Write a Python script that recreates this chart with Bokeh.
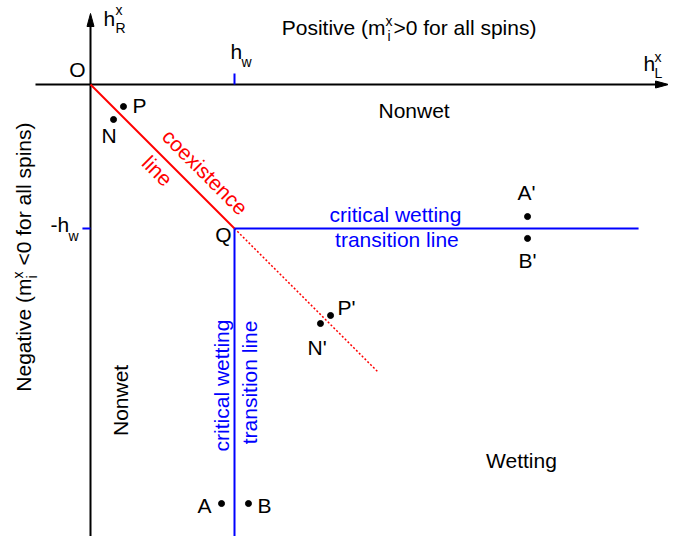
from bokeh.plotting import figure
from bokeh.models import Range1d
from bokeh.core.properties import value
from bokeh.embed import file_html
from bokeh.resources import INLINE
import math

# ---- schematic data (units of h_w) ----
HW = 1.0
axis_x_extent = [-0.382, 4.014]      # h_L^x axis (y = 0)
axis_y_extent = [-3.40, 0.493]       # h_R^x axis (x = 0)
coex_solid_x = [0.0, HW]
coex_solid_y = [0.0, -HW]
coex_dot_x = [HW, 2.0]
coex_dot_y = [-HW, -2.0]
cwt_h_x = [HW, 3.806]
cwt_h_y = [-HW, -HW]
cwt_v_x = [HW, HW]
cwt_v_y = [-HW, -3.40]

point_names = ["P", "N", "P'", "N'", "A", "B", "A'", "B'"]
point_x = [0.229, 0.160, 1.667, 1.597, 0.910, 1.097, 3.035, 3.035]
point_y = [-0.153, -0.243, -1.604, -1.660, -2.910, -2.910, -0.917, -1.069]

label_x = [0.292, 0.076, 1.715, 1.507, 0.743, 1.160, 3.028, 3.035]
label_y = [-0.201, -0.410, -1.604, -1.882, -2.979, -2.979, -0.805, -1.278]
label_align = ["left", "left", "left", "left", "left", "left", "center", "center"]

PX = 144.0  # screen pixels per unit
FONT = value("Liberation Sans")
BIG = 21
SMALL = 14
RED = "#ff0000"
BLUE = "#0000ff"

p = figure(width=668, height=536, output_backend="svg", toolbar_location=None,
           x_range=Range1d(-90 / PX, 578 / PX), y_range=Range1d(-452 / PX, 84 / PX),
           min_border=0)
p.axis.visible = False
p.grid.visible = False
p.outline_line_color = None
p.background_fill_color = "white"


def txt(x, y, s, size=BIG, color="black", align="left", angle=0.0):
    # shift the anchor "up" in the text's own frame to land the alphabetic baseline
    d = 0.37 * size / PX
    x2 = x - math.sin(angle) * d
    y2 = y + math.cos(angle) * d
    p.text(x=[x2], y=[y2], text=[s], text_font=FONT, text_font_size=f"{size}px",
           text_color=color, text_align=align, text_baseline="alphabetic", angle=angle)


# axes with arrowheads
hl, hw_ = 13 / PX, 3.5 / PX
p.line(x=[axis_x_extent[0], axis_x_extent[1] - hl * 0.6], y=[0, 0], line_color="black", line_width=2)
p.line(x=[0, 0], y=[axis_y_extent[0], axis_y_extent[1] - hl * 0.6], line_color="black", line_width=2)
tx = axis_x_extent[1]
p.patch(x=[tx, tx - hl, tx - hl], y=[0, hw_, -hw_], color="black")
ty = axis_y_extent[1]
p.patch(x=[0, -hw_, hw_], y=[ty, ty - hl, ty - hl], color="black")

# ticks for h_w
p.line(x=[HW, HW], y=[0, 0.076], line_color=BLUE, line_width=2)
p.line(x=[-0.056, 0], y=[-HW, -HW], line_color=BLUE, line_width=2)

# coexistence line
p.line(x=coex_solid_x, y=coex_solid_y, line_color=RED, line_width=2)
p.line(x=coex_dot_x, y=coex_dot_y, line_color=RED, line_width=1.5, line_dash="2 2")

# critical wetting transition lines
p.line(x=cwt_h_x, y=cwt_h_y, line_color=BLUE, line_width=2)
p.line(x=cwt_v_x, y=cwt_v_y, line_color=BLUE, line_width=2)

# points
p.scatter(x=point_x, y=point_y, size=6, color="black")
for nm, lx, ly, al in zip(point_names, label_x, label_y, label_align):
    txt(lx, ly, nm, align=al)

txt(-0.035, 0.049, "O", align="right")
txt(0.979, -1.097, "Q", align="right")

# axis labels
txt(0.090, 0.403, "h")
txt(0.174, 0.479, "x", size=SMALL)
txt(0.174, 0.354, "R", size=SMALL)
txt(3.840, 0.090, "h")
txt(3.917, 0.153, "x", size=SMALL)
txt(3.917, 0.042, "L", size=SMALL)
txt(0.972, 0.174, "h")
txt(1.049, 0.118, "w", size=SMALL)
txt(-0.278, -1.028, "-h")
txt(-0.153, -1.090, "w", size=SMALL)

# region labels
txt(2.049, 0.340, "Positive (m", align="right")
txt(2.049, 0.403, "x", size=SMALL)
txt(2.063, 0.299, "i", size=SMALL)
txt(2.104, 0.340, ">0 for all spins)")

txt(2.247, -0.236, "Nonwet", align="center")
txt(2.993, -2.667, "Wetting", align="center")

A90 = math.pi / 2
txt(0.264, -2.194, "Nonwet", align="center", angle=A90)
txt(-0.410, -1.347, "Negative (m", align="right", angle=A90)
txt(-0.465, -1.347, "x", size=SMALL, angle=A90)
txt(-0.368, -1.347, "i", size=SMALL, angle=A90)
txt(-0.410, -1.257, "<0 for all spins)", angle=A90)

# line labels
A45 = -math.pi / 4
txt(0.758, -0.645, "coexistence", color=RED, align="center", angle=A45)
txt(0.427, -0.638, "line", color=RED, align="center", angle=A45)
txt(2.118, -0.958, "critical wetting", color=BLUE, align="center")
txt(2.128, -1.132, "transition line", color=BLUE, align="center")
txt(0.965, -2.090, "critical wetting", color=BLUE, align="center", angle=A90)
txt(1.160, -2.069, "transition line", color=BLUE, align="center", angle=A90)

open("out.html", "w").write(file_html(p, INLINE))
